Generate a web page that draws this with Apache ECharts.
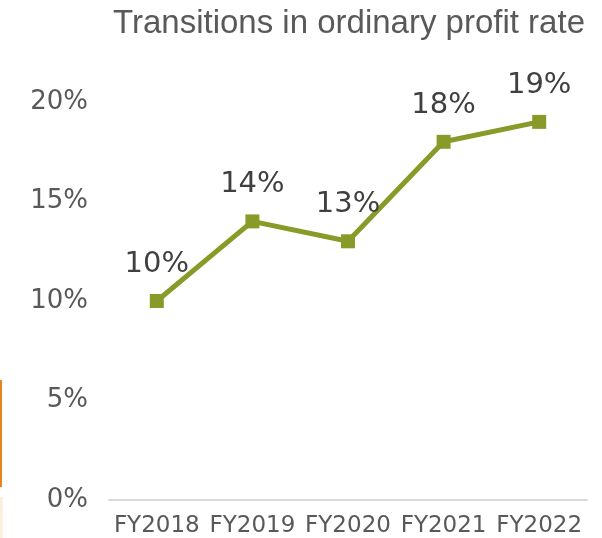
<!DOCTYPE html>
<html>
<head>
<meta charset="utf-8">
<script src="https://cdn.jsdelivr.net/npm/echarts@6/dist/echarts.min.js"></script>
<style>
  html, body { margin: 0; padding: 0; background: #fff; }
</style>
</head>
<body>
<div id="chart" style="width: 602px; height: 538px;"></div>
<script>
const years = ['FY2018', 'FY2019', 'FY2020', 'FY2021', 'FY2022'];
const profitRate = [10, 14, 13, 18, 19];
const yTicks = [0, 5, 10, 15, 20];

const chart = echarts.init(document.getElementById('chart'));
const option = {
  animation: false,
  title: {
    text: 'Transitions in ordinary profit rate',
    left: 344,
    textAlign: 'center',
    top: 2,
    textStyle: {
      fontFamily: 'Liberation Sans',
      fontSize: 33,
      fontWeight: 'normal',
      color: '#595959'
    }
  },
  grid: { left: 109, right: 15, top: 102, bottom: 36 },
  xAxis: {
    type: 'category',
    data: years,
    axisLine: { lineStyle: { color: '#d9d9d9', width: 2 } },
    axisTick: { show: false },
    axisLabel: {
      fontFamily: 'DejaVu Sans',
      fontSize: 23,
      color: '#595959',
      margin: 15,
      interval: 0
    }
  },
  yAxis: {
    type: 'value',
    min: yTicks[0],
    max: yTicks[yTicks.length - 1],
    interval: 5,
    splitLine: { show: false },
    axisLine: { show: false },
    axisTick: { show: false },
    axisLabel: {
      formatter: '{value}%',
      fontFamily: 'DejaVu Sans',
      fontSize: 26,
      color: '#595959',
      margin: 21
    }
  },
  graphic: [
    { type: 'rect', left: 0, top: 380, shape: { width: 2, height: 107 }, style: { fill: '#e8821e' } },
    { type: 'rect', left: 0, top: 497, shape: { width: 3, height: 41 }, style: { fill: '#fdeee0' } }
  ],
  series: [{
    type: 'line',
    data: profitRate,
    symbol: 'rect',
    symbolSize: 14,
    lineStyle: { color: '#8a9a29', width: 5 },
    itemStyle: { color: '#8a9a29' },
    label: {
      show: true,
      position: 'top',
      distance: 15,
      formatter: '{c}%',
      fontFamily: 'DejaVu Sans',
      fontSize: 29,
      color: '#404040'
    }
  }]
};
chart.setOption(option);
</script>
</body>
</html>
